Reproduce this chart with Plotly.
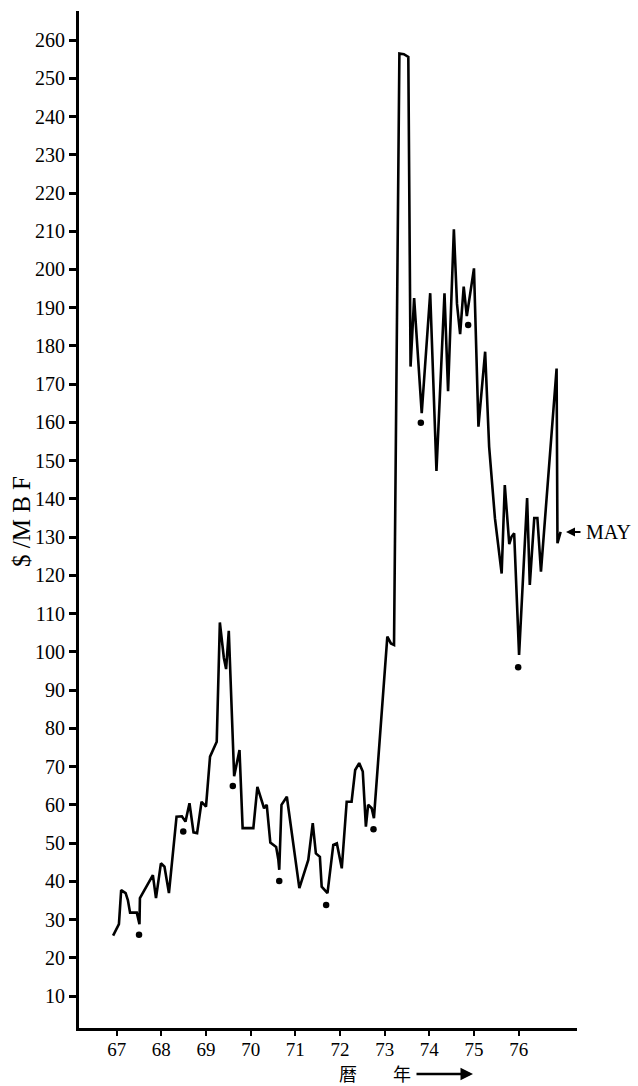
import plotly.graph_objects as go

# ---- data (x in calendar year units, y in $/MBF) ----
years = [66.92, 67.05, 67.10, 67.20, 67.25, 67.30, 67.45, 67.51, 67.52, 67.81,
         67.88, 67.99, 68.07, 68.17, 68.34, 68.46, 68.54, 68.63, 68.72, 68.80,
         68.90, 69.00, 69.09, 69.16, 69.24, 69.31, 69.40, 69.45, 69.51, 69.63,
         69.69, 69.75, 69.82, 70.06, 70.15, 70.25, 70.30, 70.36, 70.44, 70.57,
         70.62, 70.64, 70.69, 70.81, 71.09, 71.29, 71.39, 71.46, 71.55, 71.59,
         71.72, 71.85, 71.93, 72.04, 72.15, 72.26, 72.34, 72.43, 72.51, 72.58,
         72.63, 72.71, 72.76, 73.06, 73.14, 73.21, 73.33, 73.43, 73.53, 73.58,
         73.66, 73.83, 74.02, 74.16, 74.34, 74.42, 74.55, 74.62, 74.69, 74.77,
         74.84, 75.00, 75.10, 75.25, 75.34, 75.47, 75.62, 75.69, 75.79, 75.84,
         75.90, 76.01, 76.19, 76.25, 76.35, 76.42, 76.50, 76.85, 76.87, 76.94]
prices = [25.8, 28.8, 37.7, 36.9, 35.1, 31.8, 31.8, 28.8, 35.6, 41.6,
          35.6, 44.7, 43.8, 36.9, 56.9, 57.0, 55.6, 60.4, 52.8, 52.6,
          60.8, 59.5, 72.6, 74.3, 76.5, 107.7, 98.4, 95.5, 105.5, 67.5,
          71.2, 74.3, 53.9, 53.9, 64.7, 60.5, 59.1, 60.0, 50.1, 49.0,
          45.6, 43.0, 60.0, 62.1, 38.2, 45.6, 55.2, 47.3, 46.4, 38.6,
          36.9, 49.5, 49.9, 43.4, 60.8, 60.8, 69.1, 70.9, 68.7, 54.3,
          60.0, 59.1, 56.5, 104.0, 102.2, 101.8, 256.5, 256.3, 255.6, 174.6,
          192.5, 162.4, 193.8, 147.3, 193.8, 168.2, 210.5, 191.0, 183.1, 195.5,
          187.8, 200.3, 158.9, 178.5, 153.6, 134.9, 120.5, 143.6, 128.2, 130.1,
          131.0, 99.2, 140.2, 117.5, 135.0, 135.0, 121.0, 174.1, 128.4, 131.4]

dot_years = [67.50, 68.49, 69.60, 70.64, 71.69, 72.75, 73.81, 74.87, 75.99]
dot_prices = [26.0, 53.0, 64.9, 40.1, 33.8, 53.6, 159.9, 185.5, 96.0]

x_tick_vals = [67, 68, 69, 70, 71, 72, 73, 74, 75, 76]
x_tick_text = ["67", "68", "69", "70", "71", "72", "73", "74", "75", "76"]
y_tick_vals = list(range(10, 270, 10))
y_tick_text = [str(v) for v in y_tick_vals]

may_label = "MAY"
y_title = "$ /M B F"
x_title = "暦　　年"

SERIF = "Liberation Serif, Times New Roman, serif"

# plot area in page pixels (from the reference)
L, R, T, B = 79, 577, 11, 1028
PW, PH = R - L, B - T


def px(xp):
    return (xp - L) / PW


def py(yp):
    return (B - yp) / PH


fig = go.Figure()
fig.add_trace(go.Scatter(x=years, y=prices, mode="lines",
                         line=dict(color="black", width=2.6),
                         hoverinfo="skip", showlegend=False))
fig.add_trace(go.Scatter(x=dot_years, y=dot_prices, mode="markers",
                         marker=dict(color="black", size=6.5),
                         hoverinfo="skip", showlegend=False))

fig.update_layout(
    width=638, height=1086,
    margin=dict(l=L, r=638 - R, t=T, b=1086 - B),
    paper_bgcolor="white", plot_bgcolor="white",
    font=dict(family=SERIF, size=20, color="black"),
    xaxis=dict(range=[66.156, 77.307], showgrid=False, zeroline=False,
               showline=True, linecolor="black", linewidth=3,
               tickmode="array", tickvals=x_tick_vals, ticktext=x_tick_text,
               ticks="outside", ticklen=5, tickwidth=2, tickcolor="black",
               ticklabelstandoff=-3, automargin=False,
               tickfont=dict(family=SERIF, size=19)),
    yaxis=dict(range=[1.63, 267.6], showgrid=False, zeroline=False,
               showline=True, linecolor="black", linewidth=3,
               tickmode="array", tickvals=y_tick_vals, ticktext=y_tick_text,
               ticks="outside", ticklen=7, tickwidth=2.5, tickcolor="black",
               automargin=False,
               tickfont=dict(family=SERIF, size=20)),
)

# MAY label with its small arrow pointing at the last point
fig.add_annotation(x=px(584), y=py(532), xref="paper", yref="paper", text=may_label,
                   showarrow=False, xanchor="left", yanchor="middle",
                   font=dict(family=SERIF, size=20))
fig.add_annotation(x=px(566), y=py(532), xref="paper", yref="paper",
                   ax=16, ay=0, text="", showarrow=True, arrowhead=2, arrowsize=0.9,
                   arrowwidth=2, arrowcolor="black")
# y-axis title
fig.add_annotation(x=px(21), y=py(522), xref="paper", yref="paper", text=y_title,
                   showarrow=False, textangle=-90, xanchor="center", yanchor="middle",
                   font=dict(family=SERIF, size=25))
# x-axis title
fig.add_annotation(x=px(375), y=py(1073), xref="paper", yref="paper",
                   text=x_title, showarrow=False, xanchor="center", yanchor="middle",
                   font=dict(family="Noto Sans CJK JP", size=18))
# x-axis arrow
fig.add_annotation(x=px(473), y=py(1074), xref="paper", yref="paper",
                   ax=-58, ay=0, text="", showarrow=True, arrowhead=2, arrowsize=1,
                   arrowwidth=2.5, arrowcolor="black")

fig.write_html("out.html", config={"displayModeBar": False},
               post_script="document.body.style.margin='0';")
